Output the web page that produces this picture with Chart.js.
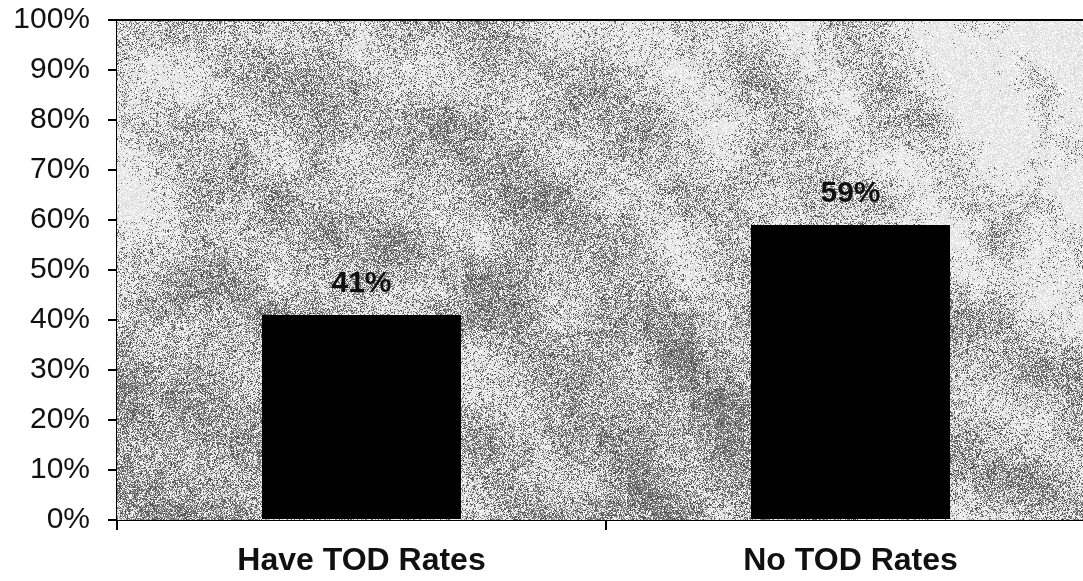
<!DOCTYPE html>
<html>
<head>
<meta charset="utf-8">
<script src="https://cdn.jsdelivr.net/npm/chart.js@4/dist/chart.umd.min.js"></script>
<style>
  html, body { margin: 0; padding: 0; background: #fff; overflow: hidden; width: 1083px; height: 581px; }
  #wrap { position: relative; width: 1100px; height: 581px; }
</style>
</head>
<body>
<div id="wrap"><canvas id="c" width="1100" height="581"></canvas></div>
<script>
// Share of respondents, by whether time-of-day rates are offered
const categories = ['Have TOD Rates', 'No TOD Rates'];
const shares = [41, 59];
const yTickValues = [0, 10, 20, 30, 40, 50, 60, 70, 80, 90, 100];

const FONT = '"Liberation Sans", Arial, Helvetica, sans-serif';
const INK = '#111';

// ---- speckled backdrop for the plot area ----
function hash2(ix, iy) {
  let h = Math.imul(ix, 374761393) + Math.imul(iy, 668265263);
  h = Math.imul(h ^ (h >>> 13), 1274126177);
  h ^= h >>> 16;
  return (h >>> 0) / 4294967296;
}
function smooth(t) { return t * t * (3 - 2 * t); }
function valueNoise(x, y) {
  const x0 = Math.floor(x), y0 = Math.floor(y);
  const fx = smooth(x - x0), fy = smooth(y - y0);
  const a = hash2(x0, y0), b = hash2(x0 + 1, y0), c = hash2(x0, y0 + 1), d = hash2(x0 + 1, y0 + 1);
  return (a + (b - a) * fx) + ((c + (d - c) * fx) - (a + (b - a) * fx)) * fy;
}
function blob(u, v, cu, cv, ru, rv, a) {
  const du = (u - cu) / ru, dv = (v - cv) / rv;
  return a * Math.exp(-(du * du + dv * dv));
}
function darkness(x, y, area) {
  const u = (x - area.left) / (area.right - area.left);
  const v = (y - area.top) / (area.bottom - area.top);
  let d = 0.34;
  d -= blob(u, v, 0.97, 0.02, 0.14, 0.4, 0.42);
  d -= blob(u, v, 0.55, 0.05, 0.1, 0.25, 0.14);
  d -= blob(u, v, 0.02, 0.25, 0.07, 0.4, 0.12);
  d -= blob(u, v, 0.97, 0.5, 0.06, 0.2, 0.12);
  d += blob(u, v, 0.05, 0.85, 0.15, 0.35, 0.26);
  d += blob(u, v, 0.55, 0.85, 0.16, 0.35, 0.24);
  d += blob(u, v, 0.3, 0.3, 0.15, 0.25, 0.14);
  d += blob(u, v, 0.98, 0.85, 0.1, 0.3, 0.1);
  d += 0.12 * Math.sin((x * 0.8 - y * 1.0) / 24 + 2.2 * Math.sin(x / 150 + y / 210));
  d += 0.38 * (valueNoise(x / 40, y / 40) - 0.5) + 0.24 * (valueNoise(x / 9, y / 9) - 0.5);
  return Math.max(0, Math.min(0.85, d));
}
let backdrop = null;
function buildBackdrop(area) {
  const w = Math.round(area.right - area.left), h = Math.round(area.bottom - area.top);
  const cv = document.createElement('canvas');
  cv.width = w; cv.height = h;
  const cx = cv.getContext('2d');
  const img = cx.createImageData(w, h);
  for (let j = 0; j < h; j++) {
    for (let i = 0; i < w; i++) {
      const x = area.left + i, y = area.top + j;
      const d = darkness(x, y, area);
      const r1 = hash2(i * 7 + 13, j * 11 + 5);
      const r2 = hash2(i + 9001, j + 3307);
      const g = r1 < d ? 70 + r2 * 90 : 212 + r2 * 43;
      const k = (j * w + i) * 4;
      img.data[k] = img.data[k + 1] = img.data[k + 2] = g;
      img.data[k + 3] = 255;
    }
  }
  cx.putImageData(img, 0, 0);
  return cv;
}

const backdropPlugin = {
  id: 'backdrop',
  beforeDatasetsDraw(chart) {
    const a = chart.chartArea;
    if (!backdrop) backdrop = buildBackdrop(a);
    chart.ctx.drawImage(backdrop, Math.round(a.left), Math.round(a.top));
  }
};

// Top frame line across the plot
const frameTopPlugin = {
  id: 'frameTop',
  afterDatasetsDraw(chart) {
    const a = chart.chartArea, ctx = chart.ctx;
    ctx.save();
    ctx.strokeStyle = '#000';
    ctx.lineWidth = 2;
    ctx.beginPath();
    ctx.moveTo(a.left, a.top);
    ctx.lineTo(a.right, a.top);
    ctx.stroke();
    ctx.restore();
  }
};

// Value labels above each bar
const valueLabelPlugin = {
  id: 'valueLabels',
  afterDatasetsDraw(chart) {
    const ctx = chart.ctx;
    const meta = chart.getDatasetMeta(0);
    ctx.save();
    ctx.font = 'bold 30px ' + FONT;
    ctx.fillStyle = INK;
    ctx.textAlign = 'center';
    ctx.textBaseline = 'middle';
    meta.data.forEach((bar, i) => {
      ctx.fillText(shares[i] + '%', bar.x, bar.y - 31);
    });
    ctx.restore();
  }
};

new Chart(document.getElementById('c'), {
  type: 'bar',
  data: {
    labels: categories,
    datasets: [{
      data: shares,
      backgroundColor: '#000',
      borderWidth: 0,
      categoryPercentage: 1,
      barPercentage: 0.407
    }]
  },
  options: {
    responsive: false,
    animation: false,
    devicePixelRatio: 1,
    layout: { padding: { left: 0, right: 5, top: 20, bottom: 0 } },
    plugins: { legend: { display: false }, tooltip: { enabled: false } },
    scales: {
      x: {
        offset: true,
        grid: { offset: true, drawOnChartArea: false, drawTicks: true, tickLength: 10, color: '#000', lineWidth: 2 },
        border: { color: '#000', width: 2 },
        ticks: { color: INK, font: { family: FONT, size: 32, weight: 'bold' }, padding: 12, maxRotation: 0 },
        afterFit(s) { s.height = 61; s.paddingLeft = 0; s.paddingRight = 0; }
      },
      y: {
        min: 0,
        max: 100,
        afterBuildTicks(s) { s.ticks = yTickValues.map(v => ({ value: v })); },
        grid: { drawOnChartArea: false, drawTicks: true, tickLength: 9, color: '#000', lineWidth: 2 },
        border: { color: '#000', width: 2 },
        ticks: { color: INK, font: { family: FONT, size: 30 }, padding: 18, callback: v => v + '%' },
        afterFit(s) { s.width = 117; s.paddingTop = 0; s.paddingBottom = 0; }
      }
    }
  },
  plugins: [backdropPlugin, frameTopPlugin, valueLabelPlugin]
});
</script>
</body>
</html>
